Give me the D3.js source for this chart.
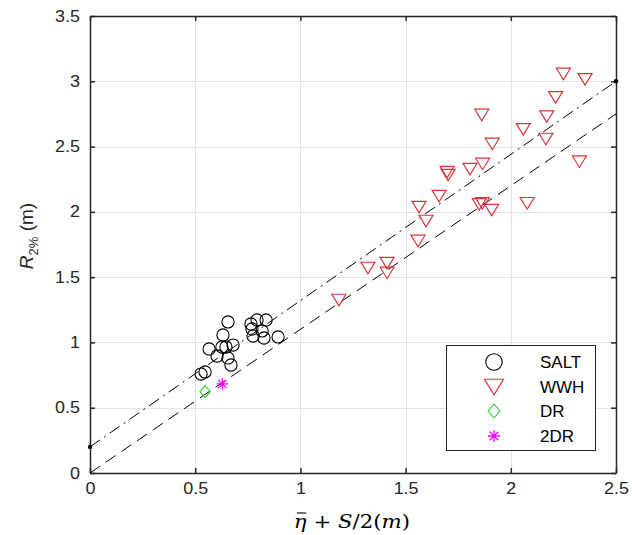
<!DOCTYPE html>
<html>
<head>
<meta charset="utf-8">
<script src="https://cdn.jsdelivr.net/npm/d3@7/dist/d3.min.js"></script>
<style>
  html, body { margin: 0; padding: 0; background: #fff; }
  svg { display: block; }
</style>
</head>
<body>
<svg id="chart" width="632" height="535"></svg>
<script>
// Observed runup (SALT / WWH / DR / 2DR) against setup plus half swash
const saltX = [0.656, 0.794, 0.837, 0.765, 0.770, 0.818, 0.775, 0.827, 0.894, 0.632,
               0.566, 0.627, 0.646, 0.680, 0.604, 0.656, 0.670, 0.547, 0.528];
const saltY = [1.157, 1.172, 1.172, 1.141, 1.103, 1.088, 1.049, 1.034, 1.042, 1.057,
               0.950, 0.965, 0.965, 0.980, 0.896, 0.881, 0.827, 0.774, 0.758];

const wwhX = [1.183, 1.321, 1.412, 1.412, 1.559, 1.564, 1.597, 1.659, 1.697, 1.702,
              1.806, 1.866, 1.862, 1.912, 1.850, 1.865, 1.909, 2.078, 2.059, 2.167,
              2.171, 2.213, 2.250, 2.353, 2.326];
const wwhY = [1.325, 1.570, 1.608, 1.532, 1.777, 2.037, 1.930, 2.121, 2.305, 2.282,
              2.328, 2.367, 2.742, 2.520, 2.058, 2.066, 2.014, 2.066, 2.632, 2.558,
              2.729, 2.877, 3.056, 3.015, 2.384];

const drX = [0.547];
const drY = [0.623];

const dr2X = [0.629];
const dr2Y = [0.682];

// Reference lines: y = 1.1x (dashed) and y = 1.12x + 0.2 (dash-dot)
const lineDashedX = [0, 2.5];
const lineDashedY = [0, 2.75];
const lineDashDotX = [0, 2.5];
const lineDashDotY = [0.2, 3.0];

const xTicks = [0, 0.5, 1, 1.5, 2, 2.5];
const yTicks = [0, 0.5, 1, 1.5, 2, 2.5, 3, 3.5];
const legendNames = ["SALT", "WWH", "DR", "2DR"];

const W = 632, H = 535;
const m = { left: 90, right: 16, top: 16, bottom: 62 };
const svg = d3.select("#chart");

const x = d3.scaleLinear().domain([0, 2.5]).range([m.left, W - m.right]);
const y = d3.scaleLinear().domain([0, 3.5]).range([H - m.bottom, m.top]);

const axisColor = "#262626";
const font = "'Liberation Sans', Arial, Helvetica, sans-serif";

// stretch a text element horizontally by a factor
function widen(sel, k) {
  sel.each(function () {
    const L = this.getComputedTextLength();
    if (L > 0) d3.select(this).attr("textLength", L * k).attr("lengthAdjust", "spacingAndGlyphs");
  });
}

// grid
const grid = svg.append("g").attr("stroke", "#e3e3e3").attr("stroke-width", 1);
xTicks.forEach(t => grid.append("line")
  .attr("x1", Math.round(x(t)) + 0.5).attr("x2", Math.round(x(t)) + 0.5)
  .attr("y1", y(0)).attr("y2", y(3.5)));
yTicks.forEach(t => grid.append("line")
  .attr("y1", Math.round(y(t)) + 0.5).attr("y2", Math.round(y(t)) + 0.5)
  .attr("x1", x(0)).attr("x2", x(2.5)));

// axes (inward ticks on all four sides)
const tickLen = 5;
const axB = svg.append("g").attr("transform", `translate(0,${y(0)})`)
  .call(d3.axisBottom(x).tickValues(xTicks).tickSizeInner(-tickLen).tickSizeOuter(0)
    .tickPadding(10).tickFormat(d3.format("")));
const axT = svg.append("g").attr("transform", `translate(0,${y(3.5)})`)
  .call(d3.axisTop(x).tickValues(xTicks).tickSizeInner(-tickLen).tickSizeOuter(0).tickFormat(""));
const axL = svg.append("g").attr("transform", `translate(${x(0)},0)`)
  .call(d3.axisLeft(y).tickValues(yTicks).tickSizeInner(-tickLen).tickSizeOuter(0)
    .tickPadding(10).tickFormat(d3.format("")));
const axR = svg.append("g").attr("transform", `translate(${x(2.5)},0)`)
  .call(d3.axisRight(y).tickValues(yTicks).tickSizeInner(-tickLen).tickSizeOuter(0).tickFormat(""));

[axB, axT, axL, axR].forEach(g => {
  g.select(".domain").attr("stroke", axisColor).attr("stroke-width", 1.5);
  g.selectAll(".tick line").attr("stroke", axisColor).attr("stroke-width", 1.5);
  g.selectAll(".tick text").attr("fill", axisColor)
    .style("font-family", font).style("font-size", "16px");
});
widen(axB.selectAll(".tick text"), 1.12);
widen(axL.selectAll(".tick text"), 1.12);

// reference lines
const lineGen = d3.line().x(d => x(d[0])).y(d => y(d[1]));
svg.append("path")
  .datum(d3.zip(lineDashedX, lineDashedY))
  .attr("d", lineGen).attr("fill", "none").attr("stroke", "#000")
  .attr("stroke-width", 1).attr("stroke-dasharray", "12,7");
svg.append("path")
  .datum(d3.zip(lineDashDotX, lineDashDotY))
  .attr("d", lineGen).attr("fill", "none").attr("stroke", "#000")
  .attr("stroke-width", 1).attr("stroke-dasharray", "12,5,2,5");
svg.selectAll(".endDot").data(d3.zip(lineDashDotX, lineDashDotY)).enter()
  .append("circle").attr("cx", d => x(d[0])).attr("cy", d => y(d[1]))
  .attr("r", 2.2).attr("fill", "#000");

// marker shapes
const red = "#d8363a", green = "#33cc33", magenta = "#ff00ff";
function drawCircle(g, cx, cy, r) {
  g.append("circle").attr("cx", cx).attr("cy", cy).attr("r", r)
    .attr("fill", "none").attr("stroke", "#000").attr("stroke-width", 1.1);
}
function drawTriangle(g, cx, cy, w, h) {
  g.append("path")
    .attr("d", `M${cx - w / 2},${cy - h / 2}L${cx + w / 2},${cy - h / 2}L${cx},${cy + h / 2}Z`)
    .attr("fill", "none").attr("stroke", red).attr("stroke-width", 1.2);
}
function drawDiamond(g, cx, cy, w, h) {
  g.append("path")
    .attr("d", `M${cx},${cy - h / 2}L${cx + w / 2},${cy}L${cx},${cy + h / 2}L${cx - w / 2},${cy}Z`)
    .attr("fill", "none").attr("stroke", green).attr("stroke-width", 1.1);
}
function drawStar(g, cx, cy, r) {
  const d = r * Math.SQRT1_2;
  g.append("path")
    .attr("d", `M${cx - r},${cy}L${cx + r},${cy}M${cx},${cy - r}L${cx},${cy + r}` +
               `M${cx - d},${cy - d}L${cx + d},${cy + d}M${cx - d},${cy + d}L${cx + d},${cy - d}`)
    .attr("stroke", magenta).attr("stroke-width", 1.3);
}

const marks = svg.append("g");
saltX.forEach((v, i) => drawCircle(marks, x(v), y(saltY[i]), 6.1));
wwhX.forEach((v, i) => drawTriangle(marks, x(v), y(wwhY[i]), 14, 11.5));
drX.forEach((v, i) => drawDiamond(marks, x(v), y(drY[i]), 10.5, 12));
dr2X.forEach((v, i) => drawStar(marks, x(v), y(dr2Y[i]), 5.8));

// legend
const lg = svg.append("g");
lg.append("rect").attr("x", 446.5).attr("y", 345.5).attr("width", 149).attr("height", 105)
  .attr("fill", "#fff").attr("stroke", axisColor).attr("stroke-width", 1);
const rowsY = [362, 387, 411, 436];
drawCircle(lg, 494, rowsY[0], 8.2);
drawTriangle(lg, 494, rowsY[1], 19, 15.5);
drawDiamond(lg, 494, rowsY[2], 12, 14);
drawStar(lg, 494, rowsY[3], 6);
legendNames.forEach((n, i) => lg.append("text")
  .attr("x", 540).attr("y", rowsY[i]).attr("dy", "0.36em")
  .attr("fill", "#000").style("font-family", font).style("font-size", "17px").text(n));

// y-axis title
const yl = svg.append("text")
  .attr("transform", `translate(33,236) rotate(-90)`)
  .attr("text-anchor", "middle").attr("fill", axisColor)
  .style("font-family", font).style("font-size", "19px");
yl.append("tspan").style("font-style", "italic").text("R");
yl.append("tspan").attr("dy", 5).style("font-size", "13px").text("2%");
yl.append("tspan").attr("dy", -5).text(" (m)");

// x-axis title: eta-bar + S/2(m)
const xl = svg.append("text")
  .attr("x", 352).attr("y", 528)
  .attr("text-anchor", "middle").attr("fill", "#000")
  .style("font-family", "'DejaVu Serif', 'Liberation Serif', serif").style("font-size", "19px");
const eta = xl.append("tspan").style("font-style", "italic").text("\u03B7");
xl.append("tspan").text(" + ");
xl.append("tspan").style("font-style", "italic").text("S");
xl.append("tspan").text("/2(");
xl.append("tspan").style("font-style", "italic").text("m");
xl.append("tspan").text(")");
widen(xl, 1.12);
// bar over eta
const eb = eta.node().getBBox();
svg.append("line")
  .attr("x1", eb.x + eb.width * 0.22).attr("x2", eb.x + eb.width * 0.92)
  .attr("y1", 513).attr("y2", 513)
  .attr("stroke", "#000").attr("stroke-width", 1.1);
</script>
</body>
</html>
